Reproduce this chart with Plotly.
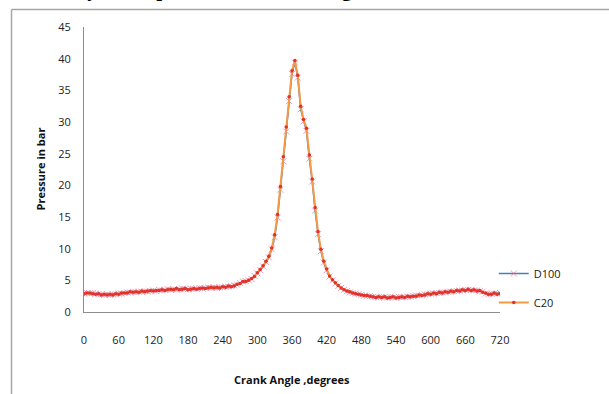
import plotly.graph_objects as go

# Crank angle in degrees (one reading every 5 degrees over the full cycle)
crank_angle = list(range(0, 721, 5))

# Cylinder pressure (bar) for the D100 fuel
pressure_d100 = [
    3.0, 3.0, 2.9, 3.0, 2.9, 2.8, 2.8, 2.7, 2.8, 2.7, 2.8, 2.8,
    2.9, 2.9, 3.0, 3.1, 3.1, 3.2, 3.1, 3.2, 3.2, 3.3, 3.2, 3.3,
    3.4, 3.3, 3.5, 3.4, 3.5, 3.6, 3.5, 3.6, 3.5, 3.6, 3.7, 3.6,
    3.6, 3.7, 3.6, 3.7, 3.8, 3.7, 3.8, 3.9, 3.8, 3.9, 3.8, 3.9,
    3.9, 4.0, 4.0, 4.1, 4.2, 4.3, 4.6, 4.8, 4.9, 5.0, 5.2, 5.7,
    6.1, 6.6, 7.2, 7.9, 8.6, 9.9, 11.8, 14.9, 19.3, 23.8, 28.5, 33.3,
    37.6, 39.4, 37.0, 32.0, 30.1, 28.6, 24.2, 20.6, 16.0, 12.3, 9.6, 7.8,
    6.6, 5.6, 5.0, 4.5, 4.1, 3.8, 3.5, 3.3, 3.1, 3.0, 2.9, 2.8,
    2.7, 2.6, 2.5, 2.5, 2.4, 2.4, 2.3, 2.4, 2.3, 2.3, 2.4, 2.3,
    2.3, 2.4, 2.3, 2.4, 2.4, 2.4, 2.5, 2.6, 2.6, 2.7, 2.8, 2.8,
    2.9, 2.9, 3.0, 3.0, 3.1, 3.1, 3.2, 3.2, 3.3, 3.3, 3.4, 3.4,
    3.5, 3.5, 3.5, 3.4, 3.4, 3.3, 3.2, 2.9, 2.8, 2.9, 2.9, 2.9,
    3.0,
]

# Cylinder pressure (bar) for the C20 blend
pressure_c20 = [
    2.9, 3.0, 3.0, 2.9, 2.8, 2.9, 2.7, 2.8, 2.7, 2.8, 2.7, 2.9,
    2.8, 3.0, 3.0, 3.0, 3.2, 3.1, 3.2, 3.1, 3.3, 3.2, 3.3, 3.4,
    3.3, 3.4, 3.4, 3.5, 3.4, 3.5, 3.6, 3.5, 3.7, 3.5, 3.6, 3.7,
    3.5, 3.6, 3.7, 3.6, 3.7, 3.8, 3.7, 3.8, 3.9, 3.8, 3.9, 3.8,
    4.0, 3.9, 4.1, 4.0, 4.1, 4.4, 4.5, 4.8, 4.8, 5.0, 5.3, 5.6,
    6.2, 6.7, 7.3, 8.0, 8.8, 10.1, 12.2, 15.4, 19.8, 24.5, 29.2, 34.0,
    38.1, 39.7, 37.4, 32.5, 30.4, 29.0, 24.8, 21.0, 16.5, 12.7, 9.9, 8.0,
    6.8, 5.7, 5.1, 4.6, 4.2, 3.8, 3.5, 3.3, 3.2, 3.0, 2.9, 2.8,
    2.7, 2.6, 2.6, 2.5, 2.4, 2.3, 2.4, 2.3, 2.4, 2.2, 2.3, 2.4,
    2.2, 2.3, 2.4, 2.3, 2.5, 2.4, 2.5, 2.5, 2.7, 2.6, 2.7, 2.9,
    2.8, 3.0, 2.9, 3.1, 3.0, 3.2, 3.1, 3.3, 3.2, 3.4, 3.3, 3.5,
    3.4, 3.6, 3.4, 3.5, 3.3, 3.4, 3.1, 3.0, 2.8, 2.8, 3.0, 2.8,
    2.9,
]

y_ticks = [0, 5, 10, 15, 20, 25, 30, 35, 40, 45]
x_ticks = [0, 60, 120, 180, 240, 300, 360, 420, 480, 540, 600, 660, 720]

TICK_FONT = dict(family="Open Sans, Lato, sans-serif", size=11, color="#222222")
TITLE_FONT = dict(family="Open Sans, Lato, sans-serif", size=11, color="#111111")
FRAME = "#a6a6a6"

fig = go.Figure()

fig.add_trace(go.Scatter(
    x=crank_angle, y=pressure_d100, name="D100", mode="lines+markers",
    legendgroup="d100", legendrank=1,
    line=dict(color="#4a7ebb", width=1.5),
    marker=dict(symbol="x-thin", size=6, color="rgba(222,120,150,0.7)",
                line=dict(width=1, color="rgba(222,120,150,0.7)")),
))
# C20 drawn on top of D100
fig.add_trace(go.Scatter(
    x=crank_angle, y=pressure_c20, name="C20", mode="lines+markers",
    legendgroup="c20", legendrank=2,
    line=dict(color="#f39a45", width=2),
    marker=dict(symbol="circle", size=3.5, color="#e2302a"),
))

fig.update_layout(
    width=609, height=394,
    margin=dict(l=84, r=109, t=27, b=82),
    paper_bgcolor="white", plot_bgcolor="white",
    showlegend=True,
    legend=dict(
        x=0.985, y=0.186, xanchor="left", yanchor="top",
        font=dict(family="Open Sans, Lato, sans-serif", size=11, color="#222222"),
        tracegroupgap=10, itemwidth=30, bgcolor="rgba(0,0,0,0)",
    ),
    xaxis=dict(
        range=[0, 720], tickvals=x_ticks, ticktext=[str(v) for v in x_ticks],
        showgrid=False, zeroline=False, showline=True, linecolor="#8c8c8c",
        linewidth=1, ticks="", tickfont=TICK_FONT, ticklabelstandoff=18,
    ),
    yaxis=dict(
        range=[0, 45], tickvals=y_ticks, ticktext=[str(v) for v in y_ticks],
        showgrid=False, zeroline=False, showline=True, linecolor="#8c8c8c",
        linewidth=1, ticks="", tickfont=TICK_FONT, ticklabelstandoff=10,
    ),
    annotations=[
        dict(text="<b>Pressure in bar</b>", textangle=-90, font=TITLE_FONT,
             xref="paper", yref="paper", x=(40 - 84) / 416, y=0.5,
             xanchor="center", yanchor="middle", showarrow=False),
        dict(text="<b>Crank Angle ,degrees</b>", font=TITLE_FONT,
             xref="paper", yref="paper", x=0.5, y=(312 - 379) / 285,
             xanchor="center", yanchor="middle", showarrow=False),
        dict(text="<b>Cylinder pressure vs crank angle</b>",
             font=dict(family="Liberation Serif, serif", size=21, color="#000000"),
             xref="paper", yref="paper", x=(70 - 84) / 416, y=(312 - 3.5) / 285,
             xanchor="left", yanchor="bottom", showarrow=False),
    ],
    shapes=[
        # chart frame: left and top edges
        dict(type="line", xref="paper", yref="paper",
             x0=(11.5 - 84) / 416, x1=(11.5 - 84) / 416,
             y0=(312 - 9.5) / 285, y1=(312 - 400) / 285,
             line=dict(color=FRAME, width=1.5)),
        dict(type="line", xref="paper", yref="paper",
             x0=(11.5 - 84) / 416, x1=(615 - 84) / 416,
             y0=(312 - 9.5) / 285, y1=(312 - 9.5) / 285,
             line=dict(color=FRAME, width=1.5)),
    ],
)

fig.write_html("out.html")
